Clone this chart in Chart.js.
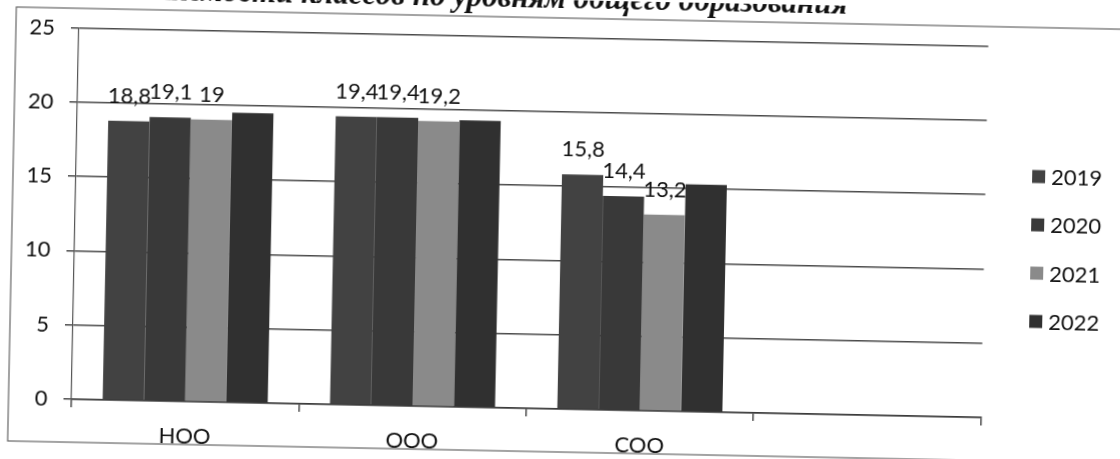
<!DOCTYPE html>
<html><head><meta charset="utf-8">
<script src="https://cdn.jsdelivr.net/npm/chart.js@4.4.1/dist/chart.umd.min.js"></script>
<style>
html,body{margin:0;padding:0;background:#fff;overflow:hidden;width:1120px;height:459px}
#c{position:absolute;left:0;top:0;transform:rotate(1.15deg);transform-origin:560px 229.5px}
</style></head><body>
<canvas id="c" width="1120" height="459"></canvas>
<script>
const categories = ['НОО', 'ООО', 'СОО', ''];
const seriesNames = ['2019', '2020', '2021', '2022'];
const values2019 = [18.8, 19.4, 15.8, null];
const values2020 = [19.1, 19.4, 14.4, null];
const values2021 = [19, 19.2, 13.2, null];
const values2022 = [19.5, 19.3, 15.3, null];
const yTicks = [0, 5, 10, 15, 20, 25];
const labeledSeries = [0, 1, 2];
const titleText = 'наполняемости классов по уровням общего образования';

const seriesValues = [values2019, values2020, values2021, values2022];
const colors = ['#424242', '#393939', '#8a8a8a', '#303030'];
const FAMILY = 'Lato, "Open Sans", sans-serif';
const FSIZE = 22;
const TXT = '#111';

const framePlugin = {
  id: 'frame',
  beforeDraw(chart) {
    const c = chart.ctx;
    c.save();
    c.strokeStyle = '#666';
    c.lineWidth = 1.2;
    c.strokeRect(12, 18, 1130, 452 - 18);
    c.font = 'italic bold 31px "Liberation Serif", serif';
    c.fillStyle = '#111';
    c.textAlign = 'right';
    c.textBaseline = 'alphabetic';
    c.fillText(titleText, 843, 8);
    c.restore();
  }
};

const labelPlugin = {
  id: 'vlabels',
  afterDatasetsDraw(chart) {
    const c = chart.ctx;
    c.save();
    c.font = FSIZE + 'px ' + FAMILY;
    c.fillStyle = TXT;
    c.textAlign = 'center';
    c.textBaseline = 'middle';
    labeledSeries.forEach(i => {
      const meta = chart.getDatasetMeta(i);
      const data = chart.data.datasets[i].data;
      meta.data.forEach((el, j) => {
        const v = data[j];
        if (v === null || v === undefined) return;
        c.fillText(String(v).replace('.', ','), el.x, el.y - 25);
      });
    });
    c.restore();
  }
};

const legendPlugin = {
  id: 'sideLegend',
  afterDraw(chart) {
    const c = chart.ctx;
    c.save();
    c.font = FSIZE + 'px ' + FAMILY;
    c.textAlign = 'left';
    c.textBaseline = 'middle';
    chart.data.datasets.forEach((ds, i) => {
      const y = 167 + i * 48.3;
      c.fillStyle = ds.backgroundColor;
      c.fillRect(1031, y - 6.5, 13, 13);
      c.fillStyle = TXT;
      c.fillText(ds.label, 1050, y + 1);
    });
    c.restore();
  }
};

function build() {
  new Chart(document.getElementById('c').getContext('2d'), {
    type: 'bar',
    data: {
      labels: categories,
      datasets: seriesNames.map((n, i) => ({
        label: n,
        data: seriesValues[i],
        backgroundColor: colors[i],
        borderWidth: 0,
        barPercentage: 1,
        categoryPercentage: 0.726
      }))
    },
    options: {
      responsive: false,
      animation: false,
      devicePixelRatio: 1,
      layout: { padding: { left: 0, top: 37.5, right: 1120 - 984.5, bottom: 0 } },
      plugins: { legend: { display: false }, tooltip: { enabled: false }, title: { display: false } },
      scales: {
        x: {
          grid: { display: true, drawOnChartArea: false, drawTicks: true, tickLength: 8, offset: true, color: '#4a4a4a', lineWidth: 1.5 },
          border: { display: true, color: '#3a3a3a', width: 1.5 },
          ticks: { font: { family: FAMILY, size: FSIZE }, color: TXT, padding: 14, maxRotation: 0, autoSkip: false },
          afterFit(s) { s.height = 459 - 409; }
        },
        y: {
          min: 0, max: 25,
          afterBuildTicks(s) { s.ticks = yTicks.map(v => ({ value: v })); },
          ticks: { font: { family: FAMILY, size: FSIZE }, color: TXT, padding: 16 },
          grid: { color: '#4a4a4a', lineWidth: 1.5, tickLength: 8, drawTicks: true },
          border: { display: true, color: '#555', width: 1.2 },
          afterFit(s) { s.width = 75; }
        }
      }
    },
    plugins: [framePlugin, labelPlugin, legendPlugin]
  });
}

const loads = [
  FSIZE + 'px Lato', FSIZE + 'px "Open Sans"', 'italic bold 31px "Liberation Serif"'
].map(f => document.fonts.load(f, 'НОО 2019').catch(() => null));
Promise.all(loads).then(build, build);
</script>
</body></html>
